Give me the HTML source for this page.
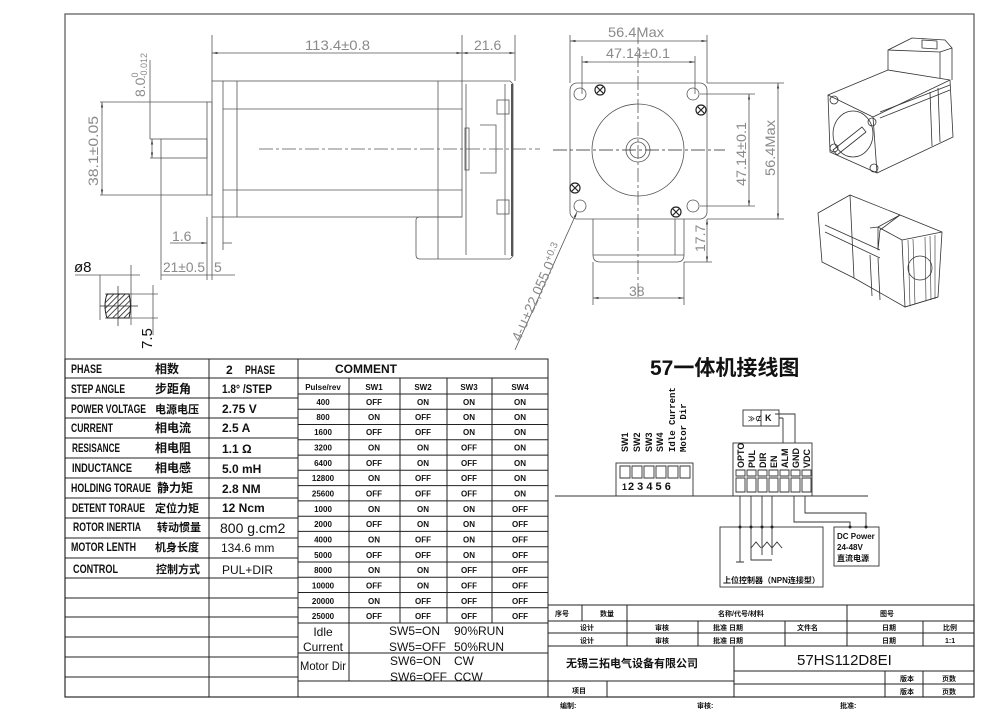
<!DOCTYPE html>
<html><head><meta charset="utf-8"><style>
html,body{margin:0;padding:0;background:#fff;}
svg{display:block;}
.t{font-family:"Liberation Sans","Noto Sans CJK SC",sans-serif;font-weight:bold;fill:#111;}
.d{font-family:"Liberation Sans",sans-serif;fill:#8a8a8a;font-size:14px;}
</style></head><body>
<svg width="994" height="711" viewBox="0 0 994 711" xmlns="http://www.w3.org/2000/svg">
<defs>
<marker id="a" viewBox="0 0 10 10" refX="10" refY="5" markerWidth="7" markerHeight="7" orient="auto-start-reverse"><path d="M0,3 L10,5 L0,7z" fill="#444"/></marker>
<pattern id="h" width="4" height="4" patternUnits="userSpaceOnUse" patternTransform="rotate(45)"><line x1="0" y1="0" x2="0" y2="4" stroke="#222" stroke-width="1.6"/></pattern>
</defs>
<rect x="0" y="0" width="994" height="711" fill="#fff"/>
<rect x="65" y="14" width="909" height="683" fill="none" stroke="#555" stroke-width="1.2"/>

<!-- SIDE VIEW -->
<g stroke="#555" stroke-width="0.8" fill="none">
<line x1="212" y1="35" x2="212" y2="81"/><line x1="462" y1="35" x2="462" y2="81"/><line x1="515" y1="35" x2="515" y2="81"/>
<line x1="212" y1="53" x2="462" y2="53" marker-start="url(#a)" marker-end="url(#a)"/>
<line x1="462" y1="53" x2="515" y2="53" marker-start="url(#a)" marker-end="url(#a)"/>
<rect x="212" y="81" width="250" height="136"/>
<line x1="223" y1="81" x2="223" y2="217"/><line x1="237" y1="81" x2="237" y2="217"/><line x1="438" y1="81" x2="438" y2="217"/>
<line x1="223" y1="109" x2="462" y2="109"/><line x1="223" y1="190" x2="462" y2="190"/>
<rect x="207" y="102" width="5" height="93"/>
<rect x="161" y="139" width="46" height="19"/>
<path d="M462,81 H510 L513,84 V256 L510,259 H420 Q416,259 416,255 V220 Q416,217 420,217 H462"/>
<line x1="438" y1="217" x2="438" y2="259"/>
<line x1="466" y1="84" x2="466" y2="255"/><line x1="505" y1="84" x2="505" y2="255"/>
<rect x="497" y="100" width="12" height="14"/><rect x="497" y="200" width="12" height="14"/>
<rect x="465" y="128" width="4" height="42"/><path d="M480,125 H496 V173 H480"/>
<line x1="512" y1="84" x2="512" y2="256" stroke-width="2"/>
<line x1="259" y1="149" x2="540" y2="149" stroke-dasharray="14,3,3,3"/>
<line x1="100" y1="102" x2="207" y2="102"/><line x1="100" y1="195" x2="207" y2="195"/>
<line x1="102" y1="102" x2="102" y2="195" marker-start="url(#a)" marker-end="url(#a)"/>
<line x1="150" y1="139" x2="161" y2="139"/><line x1="150" y1="158" x2="161" y2="158"/>
<line x1="152" y1="139" x2="152" y2="158" marker-start="url(#a)" marker-end="url(#a)"/>
<line x1="150" y1="60" x2="150" y2="139"/>
<line x1="161" y1="158" x2="161" y2="280"/><line x1="207" y1="217" x2="207" y2="280"/><line x1="212" y1="217" x2="212" y2="280"/><line x1="223" y1="217" x2="223" y2="250"/>
<line x1="170" y1="243" x2="207" y2="243" marker-end="url(#a)"/><line x1="223" y1="243" x2="232" y2="243"/>
<line x1="161" y1="275" x2="235" y2="275"/>
<line x1="75" y1="275" x2="140" y2="275"/><line x1="100" y1="275" x2="100" y2="320"/><line x1="131" y1="265" x2="131" y2="325"/>
<line x1="105" y1="294" x2="158" y2="294"/><line x1="105" y1="318" x2="158" y2="318"/>
<line x1="153" y1="285" x2="153" y2="335"/>
</g>
<path d="M107,294 H129 Q132,306 129,318 H107 Q103,306 107,294z" fill="url(#h)" stroke="#222"/>
<line x1="118" y1="286" x2="118" y2="326" stroke="#222" stroke-width="0.7"/><line x1="100" y1="306" x2="138" y2="306" stroke="#222" stroke-width="0.7"/>
<text class="d" x="305" y="50" textLength="65" lengthAdjust="spacingAndGlyphs">113.4±0.8</text>
<text class="d" x="474" y="50">21.6</text>
<text class="d" transform="translate(98,186) rotate(-90)" textLength="70" lengthAdjust="spacingAndGlyphs">38.1±0.05</text>
<text class="d" font-size="13" transform="translate(145,97) rotate(-90)">8.0<tspan font-size="9" dy="-7">0</tspan><tspan font-size="9" dx="-6" dy="9">-0.012</tspan></text>
<text class="d" x="172" y="241">1.6</text>
<text class="d" x="163" y="272" textLength="42" lengthAdjust="spacingAndGlyphs">21±0.5</text><text class="d" x="214" y="272">5</text>
<text class="t" x="74" y="272" style="font-weight:normal" font-size="15">ø8</text>
<text class="t" font-size="15" style="font-weight:normal" transform="translate(152,349) rotate(-90)">7.5</text>

<!-- FRONT VIEW -->
<g stroke="#555" stroke-width="0.8" fill="none">
<rect x="570" y="83" width="137" height="136" rx="7"/>
<circle cx="638" cy="150" r="46"/><circle cx="638" cy="150" r="12"/><circle cx="638" cy="150" r="8"/>
<circle cx="580" cy="94" r="6"/><circle cx="693" cy="94" r="6"/><circle cx="580" cy="206" r="6"/><circle cx="693" cy="206" r="6"/>
<path d="M593,219 V255 Q593,262 600,262 H677 Q684,262 684,255 V219"/><line x1="593" y1="255" x2="684" y2="255"/><line x1="675" y1="219" x2="675" y2="255"/>
<line x1="553" y1="150" x2="725" y2="150" stroke="#222" stroke-dasharray="14,3,3,3"/>
<line x1="638" y1="30" x2="638" y2="300" stroke-dasharray="14,3,3,3"/>
<line x1="570" y1="35" x2="570" y2="83"/><line x1="707" y1="35" x2="707" y2="83"/>
<line x1="570" y1="41" x2="707" y2="41" marker-start="url(#a)" marker-end="url(#a)"/>
<line x1="582" y1="56" x2="582" y2="94"/><line x1="695" y1="56" x2="695" y2="94"/>
<line x1="582" y1="62" x2="695" y2="62" marker-start="url(#a)" marker-end="url(#a)"/>
<line x1="700" y1="94" x2="755" y2="94"/><line x1="700" y1="206" x2="755" y2="206"/>
<line x1="749" y1="94" x2="749" y2="206" marker-start="url(#a)" marker-end="url(#a)"/>
<line x1="707" y1="83" x2="784" y2="83"/><line x1="707" y1="219" x2="784" y2="219"/>
<line x1="778" y1="83" x2="778" y2="219" marker-start="url(#a)" marker-end="url(#a)"/>
<line x1="684" y1="262" x2="712" y2="262"/>
<line x1="707" y1="219" x2="707" y2="262" marker-start="url(#a)" marker-end="url(#a)"/>
<line x1="593" y1="262" x2="593" y2="305"/><line x1="684" y1="262" x2="684" y2="305"/>
<line x1="593" y1="298" x2="684" y2="298" marker-start="url(#a)" marker-end="url(#a)"/>
<line x1="515" y1="350" x2="577" y2="212" marker-end="url(#a)"/>
</g>
<g stroke="#222" stroke-width="1.2" fill="none">
<circle cx="600" cy="90" r="5"/><path d="M597,87l6,6M603,87l-6,6"/>
<circle cx="701" cy="110" r="5"/><path d="M698,107l6,6M704,107l-6,6"/>
<circle cx="575" cy="188" r="5"/><path d="M572,185l6,6M578,185l-6,6"/>
<circle cx="676" cy="212" r="5"/><path d="M673,209l6,6M679,209l-6,6"/>
</g>
<text class="d" x="608" y="37" textLength="56" lengthAdjust="spacingAndGlyphs">56.4Max</text>
<text class="d" x="606" y="58" textLength="64" lengthAdjust="spacingAndGlyphs">47.14±0.1</text>
<text class="d" transform="translate(746,186) rotate(-90)" textLength="64" lengthAdjust="spacingAndGlyphs">47.14±0.1</text>
<text class="d" transform="translate(775,176) rotate(-90)" textLength="56" lengthAdjust="spacingAndGlyphs">56.4Max</text>
<text class="d" transform="translate(705,252) rotate(-90)">17.7</text>
<text class="d" x="629" y="296">38</text>
<text class="d" transform="translate(520,342) rotate(-66)">4-∪+22,055.0<tspan font-size="10" dy="-5">+0.3</tspan></text>

<!-- 3D views -->
<g stroke="#333" stroke-width="0.8" fill="none" stroke-linejoin="round">
<path d="M828,95 L873,117 L877,173 L830,152 Z"/>
<path d="M828,95 L888,70 L950,80 L873,117"/>
<path d="M950,80 L953,137 L877,173"/>
<path d="M888,70 V50 L912,38 L945,40 L952,48 V80"/>
<path d="M888,50 L940,52 L952,48"/><path d="M940,52 V78"/>
<path d="M922,40 l15,1 v8 l-15,-1z"/>
<ellipse cx="853" cy="134" rx="20" ry="23"/>
<path d="M833,150 L862,127 L866,132 L837,155z"/>
<circle cx="834" cy="100" r="4"/><circle cx="872" cy="122" r="4"/><circle cx="874" cy="168" r="4"/><circle cx="834" cy="148" r="4"/>
<line x1="880" y1="112" x2="950" y2="85"/><line x1="880" y1="118" x2="950" y2="90"/>
<line x1="930" y1="92" x2="932" y2="146"/><line x1="938" y1="88" x2="940" y2="142"/>
<path d="M818,213 L850,195 L854,278 L822,262 Z"/>
<path d="M850,195 L900,215 L878,227 L870,228"/>
<path d="M854,278 L905,307 L938,297"/>
<path d="M878,227 V250 L880,230 L900,215 L942,232 L938,297 L905,307 L902,240 L878,227"/>
<path d="M902,240 L942,232"/>
<circle cx="920" cy="268" r="12"/>
<g stroke-width="0.6"><line x1="908" y1="240" x2="910" y2="305"/><line x1="913" y1="239" x2="915" y2="304"/><line x1="925" y1="237" x2="926" y2="301"/><line x1="930" y1="236" x2="931" y2="300"/><line x1="935" y1="235" x2="935" y2="299"/></g>
<line x1="825" y1="225" x2="880" y2="250"/><line x1="825" y1="232" x2="880" y2="258"/>
<line x1="870" y1="255" x2="872" y2="296"/><line x1="878" y1="258" x2="880" y2="300"/>
</g>

<!-- LEFT SPEC TABLE -->
<g stroke="#222" stroke-width="1" fill="none">
<rect x="65" y="359" width="233" height="338"/>
<line x1="209" y1="359" x2="209" y2="697"/>
<path d="M65,378H298M65,398H298M65,418H298M65,438H298M65,458H298M65,478H298M65,498H298M65,518H298M65,538H298M65,558H298M65,578H298M65,598H298M65,617H298M65,637H298M65,657H298M65,677H298"/>
<rect x="298" y="359" width="250" height="338"/>
<line x1="298" y1="378" x2="548" y2="378"/>
<line x1="298" y1="394" x2="548" y2="394"/>
<line x1="349" y1="378" x2="349" y2="681"/><line x1="400" y1="378" x2="400" y2="623"/><line x1="447" y1="378" x2="447" y2="623"/><line x1="492" y1="378" x2="492" y2="623"/>
<path d="M298,409.3H548M298,424.5H548M298,439.8H548M298,455.1H548M298,470.3H548M298,485.6H548M298,500.9H548M298,516.2H548M298,531.4H548M298,546.7H548M298,562H548M298,577.2H548M298,592.5H548M298,607.8H548M298,623H548"/>
<line x1="298" y1="653" x2="548" y2="653"/><line x1="298" y1="681" x2="548" y2="681"/>
</g>
<g class="t" font-size="12">
<text x="71" y="373" textLength="31" lengthAdjust="spacingAndGlyphs">PHASE</text><text x="155" y="373">相数</text><text x="226" y="374">2</text><text x="245" y="374" textLength="30" lengthAdjust="spacingAndGlyphs">PHASE</text>
<text x="71" y="393" textLength="54" lengthAdjust="spacingAndGlyphs">STEP ANGLE</text><text x="155" y="393">步距角</text><text x="222" y="393" textLength="50" lengthAdjust="spacingAndGlyphs">1.8°  /STEP</text>
<text x="71" y="413" textLength="75" lengthAdjust="spacingAndGlyphs">POWER VOLTAGE</text><text x="155" y="413" font-size="11">电源电压</text><text x="222" y="413">2.75  V</text>
<text x="71" y="432" textLength="42" lengthAdjust="spacingAndGlyphs">CURRENT</text><text x="155" y="432">相电流</text><text x="222" y="432">2.5   A</text>
<text x="72" y="452" textLength="48" lengthAdjust="spacingAndGlyphs">RESISANCE</text><text x="155" y="452">相电阻</text><text x="222" y="453">1.1   Ω</text>
<text x="72" y="472" textLength="60" lengthAdjust="spacingAndGlyphs">INDUCTANCE</text><text x="155" y="472">相电感</text><text x="222" y="473">5.0   mH</text>
<text x="71" y="492" textLength="80" lengthAdjust="spacingAndGlyphs">HOLDING TORAUE</text><text x="157" y="492">静力矩</text><text x="222" y="493">2.8   NM</text>
<text x="72" y="512" textLength="73" lengthAdjust="spacingAndGlyphs">DETENT TORAUE</text><text x="155" y="512" font-size="11">定位力矩</text><text x="222" y="512">12    Ncm</text>
<text x="73" y="531" textLength="68" lengthAdjust="spacingAndGlyphs">ROTOR INERTIA</text><text x="157" y="531" font-size="11">转动惯量</text><text x="220" y="533" font-size="14" style="font-weight:normal">800 g.cm2</text>
<text x="71" y="551" textLength="65" lengthAdjust="spacingAndGlyphs">MOTOR LENTH</text><text x="155" y="551" font-size="11">机身长度</text><text x="221" y="552" style="font-weight:normal">134.6 mm</text>
<text x="73" y="573" textLength="45" lengthAdjust="spacingAndGlyphs">CONTROL</text><text x="156" y="573" font-size="11">控制方式</text><text x="222" y="574" style="font-weight:normal">PUL+DIR</text>
<text x="335" y="373">COMMENT</text>
</g>
<g class="t" font-size="8" text-anchor="middle">
<text x="323" y="390">Pulse/rev</text><text x="374" y="390">SW1</text><text x="423" y="390">SW2</text><text x="469" y="390">SW3</text><text x="520" y="390">SW4</text>
</g>
<g class="t" font-size="8" text-anchor="middle">
<g transform="translate(0,405)"><text x="323">400</text><text x="374">OFF</text><text x="423">ON</text><text x="469">ON</text><text x="520">ON</text></g>
<g transform="translate(0,420)"><text x="323">800</text><text x="374">ON</text><text x="423">OFF</text><text x="469">ON</text><text x="520">ON</text></g>
<g transform="translate(0,435)"><text x="323">1600</text><text x="374">OFF</text><text x="423">OFF</text><text x="469">ON</text><text x="520">ON</text></g>
<g transform="translate(0,450.5)"><text x="323">3200</text><text x="374">ON</text><text x="423">ON</text><text x="469">OFF</text><text x="520">ON</text></g>
<g transform="translate(0,466)"><text x="323">6400</text><text x="374">OFF</text><text x="423">ON</text><text x="469">OFF</text><text x="520">ON</text></g>
<g transform="translate(0,481)"><text x="323">12800</text><text x="374">ON</text><text x="423">OFF</text><text x="469">OFF</text><text x="520">ON</text></g>
<g transform="translate(0,496.5)"><text x="323">25600</text><text x="374">OFF</text><text x="423">OFF</text><text x="469">OFF</text><text x="520">ON</text></g>
<g transform="translate(0,512)"><text x="323">1000</text><text x="374">ON</text><text x="423">ON</text><text x="469">ON</text><text x="520">OFF</text></g>
<g transform="translate(0,527)"><text x="323">2000</text><text x="374">OFF</text><text x="423">ON</text><text x="469">ON</text><text x="520">OFF</text></g>
<g transform="translate(0,542.5)"><text x="323">4000</text><text x="374">ON</text><text x="423">OFF</text><text x="469">ON</text><text x="520">OFF</text></g>
<g transform="translate(0,558)"><text x="323">5000</text><text x="374">OFF</text><text x="423">OFF</text><text x="469">ON</text><text x="520">OFF</text></g>
<g transform="translate(0,573)"><text x="323">8000</text><text x="374">ON</text><text x="423">ON</text><text x="469">OFF</text><text x="520">OFF</text></g>
<g transform="translate(0,588.5)"><text x="323">10000</text><text x="374">OFF</text><text x="423">ON</text><text x="469">OFF</text><text x="520">OFF</text></g>
<g transform="translate(0,604)"><text x="323">20000</text><text x="374">ON</text><text x="423">OFF</text><text x="469">OFF</text><text x="520">OFF</text></g>
<g transform="translate(0,619)"><text x="323">25000</text><text x="374">OFF</text><text x="423">OFF</text><text x="469">OFF</text><text x="520">OFF</text></g>
</g>
<g class="t" font-size="12" style="font-weight:normal">
<text x="323" y="636" text-anchor="middle">Idle</text><text x="323" y="651" text-anchor="middle">Current</text>
<text x="389" y="635">SW5=ON</text><text x="454" y="635">90%RUN</text>
<text x="389" y="651">SW5=OFF</text><text x="454" y="651">50%RUN</text>
<text x="323" y="670" text-anchor="middle" textLength="46" lengthAdjust="spacingAndGlyphs">Motor Dir</text>
<text x="390" y="665">SW6=ON</text><text x="454" y="665">CW</text>
<text x="390" y="681">SW6=OFF</text><text x="454" y="681">CCW</text>
</g>

<!-- WIRING -->
<text class="t" x="650" y="375" font-size="21">57一体机接线图</text>
<g stroke="#333" stroke-width="0.9" fill="none">
<line x1="555" y1="496" x2="868" y2="496"/>
<rect x="616" y="463" width="77" height="33"/>
<path d="M620,466h10v12h-10zM632,466h10v12h-10zM644,466h10v12h-10zM656,466h10v12h-10zM668,466h10v12h-10zM680,466h10v12h-10z"/>
<rect x="733" y="443" width="79" height="53"/>
<path d="M736,470h9v6h-9zM747,470h9v6h-9zM758,470h9v6h-9zM769,470h9v6h-9zM780,470h9v6h-9zM791,470h9v6h-9zM802,470h9v6h-9z"/>
<path d="M736,478h9v14h-9zM747,478h9v14h-9zM758,478h9v14h-9zM769,478h9v14h-9zM780,478h9v14h-9zM791,478h9v14h-9zM802,478h9v14h-9z"/>
<rect x="743" y="410" width="36" height="16"/><line x1="761" y1="410" x2="761" y2="426"/>
<path d="M783,418 V443 M779,418 H783 M775,414 H795 V443"/>
<path d="M740,496 V527 M751,496 V527 M762,496 V527 M772,496 V527"/>
<path d="M794,496 V522 H850 V527 M805,496 V513 H866 V527"/>
<rect x="720" y="527" width="103" height="60"/>
<rect x="834" y="527" width="45" height="39"/>
<path d="M740,527 V562 M736,562 H744 M751,527 V560 H772 M762,527 V555 M772,527 V555"/>
<path d="M751,548 l5,-6 l5,6 M762,548 l5,-6 l5,6 M772,548 l5,-6 l5,6"/>
</g>
<g fill="#222"><circle cx="740" cy="527" r="1.5"/><circle cx="751" cy="527" r="1.5"/><circle cx="762" cy="527" r="1.5"/><circle cx="772" cy="527" r="1.5"/><circle cx="850" cy="527" r="1.5"/><circle cx="866" cy="527" r="1.5"/></g>
<text class="t" x="748" y="421" font-size="7">≫⊄</text><text class="t" x="765" y="421" font-size="9">K</text>
<g class="t" font-size="9">
<text x="622" y="490">1</text><text x="628" y="490" font-size="11">2 3 4 5 6</text>
<text transform="translate(628,452) rotate(-90)">SW1</text>
<text transform="translate(640,452) rotate(-90)">SW2</text>
<text transform="translate(652,452) rotate(-90)">SW3</text>
<text transform="translate(663,452) rotate(-90)">SW4</text>
<text transform="translate(675,452) rotate(-90)" font-family="Liberation Mono,monospace">Idle Current</text>
<text transform="translate(686,452) rotate(-90)" font-family="Liberation Mono,monospace">Motor Dir</text>
<text transform="translate(744,468) rotate(-90)">OPTO</text>
<text transform="translate(755,468) rotate(-90)">PUL</text>
<text transform="translate(766,468) rotate(-90)">DIR</text>
<text transform="translate(777,468) rotate(-90)">EN</text>
<text transform="translate(788,468) rotate(-90)">ALM</text>
<text transform="translate(799,468) rotate(-90)">GND</text>
<text transform="translate(810,468) rotate(-90)">VDC</text>
</g>
<g class="t" font-size="8">
<text x="723" y="583">上位控制器（NPN连接型）</text>
<text x="837" y="539">DC Power</text><text x="837" y="550">24-48V</text><text x="837" y="561">直流电源</text>
</g>

<!-- TITLE BLOCK -->
<g stroke="#222" stroke-width="1" fill="none">
<path d="M548,605H974V697H548z"/>
<path d="M548,621H974M548,633H974M548,646H974M734,671H974M734,684H974M548,681H734"/>
<path d="M582,605V621M627,605V646M847,605V646M698,621V646M785,621V646M923,621V646M734,646V697M885,671V697M923,671V697M607,681V697"/>
</g>
<g class="t" font-size="7">
<text x="555" y="616">序号</text><text x="600" y="616">数量</text><text x="718" y="616">名称/代号/材料</text><text x="880" y="616">图号</text>
<text x="580" y="630">设计</text><text x="655" y="630">审核</text><text x="713" y="630">批准 日期</text><text x="797" y="630">文件名</text><text x="882" y="630">日期</text><text x="943" y="630">比例</text>
<text x="580" y="643">设计</text><text x="655" y="643">审核</text><text x="713" y="643">批准 日期</text><text x="882" y="643">日期</text><text x="945" y="643">1:1</text>
<text x="900" y="681">版本</text><text x="942" y="681">页数</text>
<text x="900" y="694">版本</text><text x="942" y="694">页数</text>
<text x="572" y="693">项目</text>
<text x="560" y="708">编制:</text><text x="697" y="708">审核:</text><text x="840" y="708">批准:</text>
</g>
<text class="t" x="566" y="667" font-size="11">无锡三拓电气设备有限公司</text>
<text x="797" y="665" font-size="15" font-family="Liberation Sans,sans-serif" fill="#111">57HS112D8EI</text>
</svg>
</body></html>
